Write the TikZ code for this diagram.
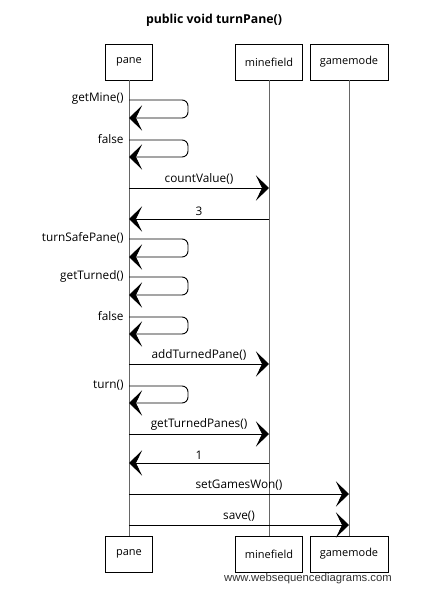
\documentclass[tikz,border=0pt]{standalone}
\usepackage{fontspec}
\setmainfont{Open Sans}
\newfontfamily\wmfont{Liberation Sans}
\usetikzlibrary{arrows.meta}
\begin{document}
\begin{tikzpicture}[x=1pt,y=-1pt,
  actor/.style={draw=black, fill=white, line width=0.8pt, minimum height=36pt,
    inner sep=0pt, font=\fontsize{11}{13}\selectfont},
  lifeline/.style={draw=black!60, line width=0.7pt},
  msg/.style={draw=black, line width=0.9pt,
    -{Stealth[length=13pt,width=25pt,inset=6pt]}},
  selfmsg/.style={msg, rounded corners=6pt},
  lbl/.style={font=\fontsize{11.8}{14}\selectfont, inner sep=1pt},
  sidelbl/.style={lbl, anchor=east, xshift=-4pt, yshift=1pt},
  toplbl/.style={lbl, above=2pt, midway},
]
\useasboundingbox (0,0) rectangle (442,596);

% title
\node[font=\bfseries\fontsize{12.3}{14}\selectfont] (title) at (214,20) {public void turnPane()};

% participants, top and bottom
\node[actor, minimum width=47pt] (paneT) at (129,62) {pane};
\node[actor, minimum width=67pt] (mineT) at (269,62) {minefield};
\node[actor, minimum width=78pt] (gameT) at (349,62) {gamemode};
\node[actor, minimum width=47pt] (paneB) at (129,554) {pane};
\node[actor, minimum width=67pt] (mineB) at (269,554) {minefield};
\node[actor, minimum width=78pt] (gameB) at (349,554) {gamemode};

% lifelines
\draw[lifeline] (paneT.south) -- (paneB.north);
\draw[lifeline] (mineT.south) -- (mineB.north);
\draw[lifeline] (gameT.south) -- (gameB.north);

% message anchor points on the lifelines
\coordinate (s1a) at (129,100);  \coordinate (s1b) at (129,118);
\coordinate (s2a) at (129,140);  \coordinate (s2b) at (129,157);
\coordinate (m3a) at (129,188);  \coordinate (m3b) at (269,188);
\coordinate (m4a) at (269,219);  \coordinate (m4b) at (129,219);
\coordinate (s5a) at (129,239);  \coordinate (s5b) at (129,257);
\coordinate (s6a) at (129,277);  \coordinate (s6b) at (129,295);
\coordinate (s7a) at (129,317);  \coordinate (s7b) at (129,334);
\coordinate (m8a) at (129,364);  \coordinate (m8b) at (269,364);
\coordinate (s9a) at (129,386);  \coordinate (s9b) at (129,403);
\coordinate (m10a) at (129,434); \coordinate (m10b) at (269,434);
\coordinate (m11a) at (269,463); \coordinate (m11b) at (129,463);
\coordinate (m12a) at (129,494); \coordinate (m12b) at (349,494);
\coordinate (m13a) at (129,525); \coordinate (m13b) at (349,525);

% messages
\draw[selfmsg] (s1a) node[sidelbl] (l1) {getMine()} -- ++(59,0) |- (s1b);
\draw[selfmsg] (s2a) node[sidelbl] (l2) {false} -- ++(59,0) |- (s2b);
\draw[msg] (m3a) -- node[toplbl] (l3) {countValue()} (m3b);
\draw[msg] (m4a) -- node[toplbl] (l4) {3} (m4b);
\draw[selfmsg] (s5a) node[sidelbl] (l5) {turnSafePane()} -- ++(59,0) |- (s5b);
\draw[selfmsg] (s6a) node[sidelbl] (l6) {getTurned()} -- ++(59,0) |- (s6b);
\draw[selfmsg] (s7a) node[sidelbl] (l7) {false} -- ++(59,0) |- (s7b);
\draw[msg] (m8a) -- node[toplbl] (l8) {addTurnedPane()} (m8b);
\draw[selfmsg] (s9a) node[sidelbl] (l9) {turn()} -- ++(59,0) |- (s9b);
\draw[msg] (m10a) -- node[toplbl] (l10) {getTurnedPanes()} (m10b);
\draw[msg] (m11a) -- node[toplbl] (l11) {1} (m11b);
\draw[msg] (m12a) -- node[toplbl] (l12) {setGamesWon()} (m12b);
\draw[msg] (m13a) -- node[toplbl] (l13) {save()} (m13b);

% footer
\node[font=\wmfont\fontsize{11.3}{13}\selectfont, text=black!80] (wm) at (308,579) {www.websequencediagrams.com};
\end{tikzpicture}
\end{document}
